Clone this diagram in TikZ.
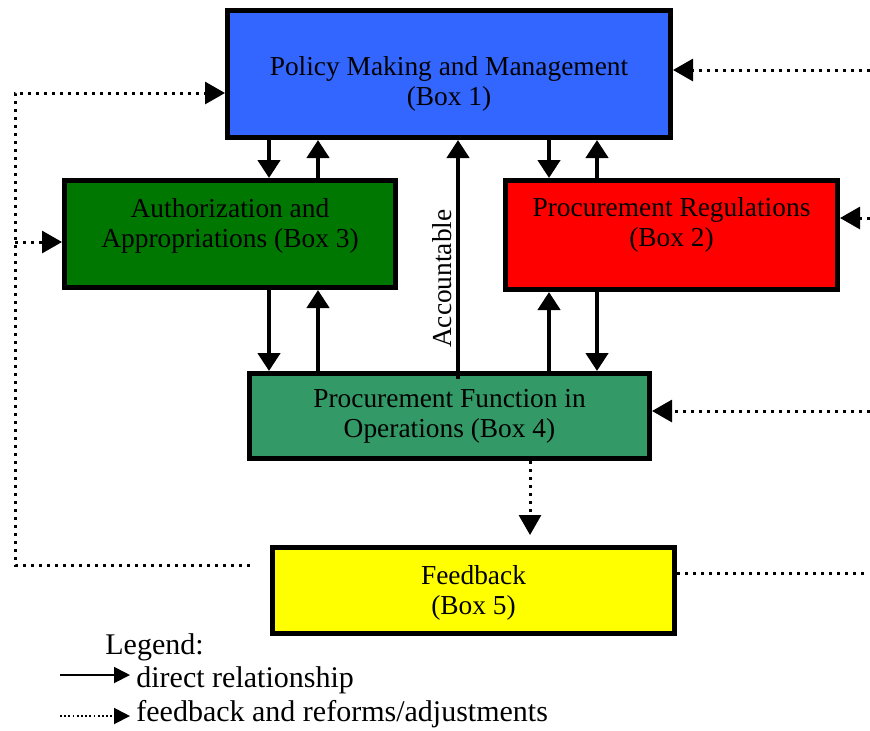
\documentclass[tikz,border=0pt]{standalone}
\usepackage{fontspec}
\setmainfont{Liberation Serif}
\usetikzlibrary{arrows.meta}

\definecolor{policyblue}{HTML}{3366FF}
\definecolor{authgreen}{HTML}{007700}
\definecolor{regred}{HTML}{FF0000}
\definecolor{opsgreen}{HTML}{339966}
\definecolor{fbyellow}{HTML}{FFFF00}

\begin{document}
\begin{tikzpicture}[x=0.5pt, y=-0.5pt,
    box/.style={draw, line width=2.5pt, inner sep=0pt},
    boxtext/.style={align=center, inner sep=0pt,
      font=\fontsize{13.7}{15}\selectfont},
    direct/.style={line width=2.2pt, -{Triangle[length=9pt, width=11pt]}},
    fb/.style={line width=1.5pt, dash pattern=on 1.5pt off 2.5pt,
      -{Triangle[length=10pt, width=11pt]}},
    fbline/.style={line width=1.5pt, dash pattern=on 1.5pt off 2.5pt},
    legend/.style={anchor=west, inner sep=0pt, font=\fontsize{15}{17}\selectfont}]
  \useasboundingbox (0,0) rectangle (870,730);

  % boxes
  \node [box, fill=policyblue, minimum width=221.5pt, minimum height=63.5pt]
    (B1) at (449, 74) {};
  \node [boxtext] (B1text) at ([yshift=-5pt]B1.center)
    {Policy Making and Management \\ (Box 1)};
  \node [box, fill=authgreen, minimum width=165.5pt, minimum height=53.5pt]
    (B3) at (230, 234) {};
  \node [boxtext] (B3text) at ([yshift=4pt]B3.center)
    {Authorization and \\ Appropriations (Box 3)};
  \node [box, fill=regred, minimum width=166pt, minimum height=54.5pt]
    (B2) at (671.5, 235) {};
  \node [boxtext] (B2text) at ([yshift=5pt]B2.center)
    {Procurement Regulations \\ (Box 2)};
  \node [box, fill=opsgreen, minimum width=200pt, minimum height=42.5pt]
    (B4) at (449.5, 416) {};
  \node [boxtext] (B4text) at (B4.center)
    {Procurement Function in \\ Operations (Box 4)};
  \node [box, fill=fbyellow, minimum width=201pt, minimum height=43pt]
    (B5) at (473.5, 590.5) {};
  \node [boxtext] (B5text) at ([yshift=-1pt]B5.center) {Feedback \\ (Box 5)};

  % direct relationships
  \draw [direct] (B1.south -| 269,0) -- (B3.north -| 269,0);
  \draw [direct] (B3.north -| 318,0) -- (B1.south -| 318,0);
  \draw [direct] (B1.south -| 549,0) -- (B2.north -| 549,0);
  \draw [direct] (B2.north -| 597,0) -- (B1.south -| 597,0);
  \draw [direct] (B3.south -| 269,0) -- (B4.north -| 269,0);
  \draw [direct] (B4.north -| 318,0) -- (B3.south -| 318,0);
  \draw [direct] (B4.north -| 549,0) -- (B2.south -| 549,0);
  \draw [direct] (B2.south -| 597,0) -- (B4.north -| 597,0);
  \draw [direct] ([yshift=-4pt]B4.north -| 458,0) -- (B1.south -| 458,0)
    node [pos=0.42, sloped, above, inner sep=2pt,
      font=\fontsize{13.7}{15}\selectfont] {Accountable};

  % feedback and reforms
  \coordinate (fbL) at (250, 565);
  \coordinate (cornerBL) at (15, 565);
  \coordinate (cornerTL) at (15, 93);
  \coordinate (branchL) at (15, 242);
  \coordinate (edgeR1) at (870, 70);
  \coordinate (edgeR2) at (870, 218);
  \coordinate (edgeR4) at (870, 411);
  \coordinate (edgeR5) at (866, 573);
  \draw [fb] (fbL) -- (cornerBL) -- (cornerTL) -- (B1.west |- cornerTL);
  \draw [fb] (branchL) -- (B3.west |- branchL);
  \draw [fb] (edgeR1) -- (B1.east |- edgeR1);
  \draw [fb] (edgeR2) -- (B2.east |- edgeR2);
  \draw [fb] (edgeR4) -- (B4.east |- edgeR4);
  \draw [fbline] (B5.east |- edgeR5) -- (edgeR5);
  \draw [fb, shorten >=5pt] (B4.south -| 530,0) -- (B5.north -| 530,0);

  % legend
  \node [legend] (leg) at (105, 647) {Legend:};
  \coordinate (legA1) at (60, 675);
  \coordinate (legA2) at (130, 675);
  \coordinate (legF1) at (60, 716);
  \coordinate (legF2) at (130, 716);
  \draw [line width=0.9pt, -{Triangle[length=8pt, width=8pt]}] (legA1) -- (legA2);
  \draw [line width=0.9pt, dash pattern=on 0.9pt off 1.2pt,
    -{Triangle[length=8pt, width=8pt]}] (legF1) -- (legF2);
  \node [legend] (legD) at (136, 680) {direct relationship};
  \node [legend] (legR) at (136, 714) {feedback and reforms/adjustments};
\end{tikzpicture}
\end{document}
